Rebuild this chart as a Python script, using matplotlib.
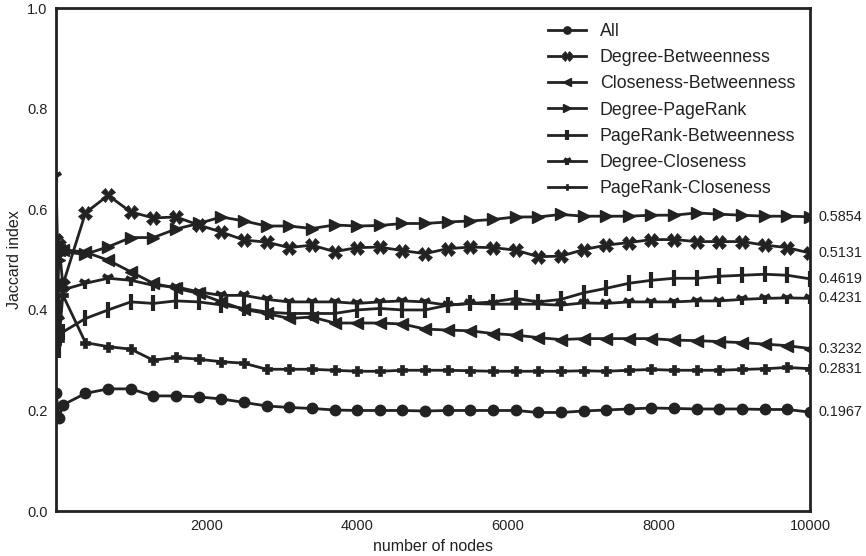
import matplotlib
matplotlib.use("Agg")
import matplotlib.pyplot as plt

plt.rcParams['font.family'] = ['Liberation Sans', 'DejaVu Sans']

nodes = [10, 50, 100, 400, 700, 1000, 1300, 1600, 1900, 2200, 2500, 2800, 3100, 3400,
         3700, 4000, 4300, 4600, 4900, 5200, 5500, 5800, 6100, 6400, 6700, 7000, 7300,
         7600, 7900, 8200, 8500, 8800, 9100, 9400, 9700, 10000]

all_vals = [0.235, 0.185, 0.211, 0.234, 0.243, 0.243, 0.229, 0.229, 0.227, 0.223, 0.216,
            0.209, 0.206, 0.204, 0.201, 0.200, 0.200, 0.200, 0.199, 0.200, 0.200, 0.200,
            0.200, 0.196, 0.196, 0.199, 0.201, 0.203, 0.205, 0.204, 0.203, 0.203, 0.203,
            0.202, 0.202, 0.1967]
deg_btw = [0.54, 0.53, 0.45, 0.593, 0.628, 0.595, 0.583, 0.585, 0.569, 0.555, 0.539, 0.535,
           0.524, 0.529, 0.516, 0.524, 0.525, 0.518, 0.512, 0.522, 0.525, 0.524, 0.519,
           0.506, 0.507, 0.520, 0.529, 0.534, 0.540, 0.540, 0.536, 0.536, 0.536, 0.529,
           0.524, 0.5131]
clo_btw = [0.45, 0.52, 0.52, 0.515, 0.499, 0.476, 0.453, 0.443, 0.433, 0.416, 0.401, 0.393,
           0.383, 0.386, 0.374, 0.374, 0.374, 0.372, 0.362, 0.360, 0.3585, 0.353, 0.350,
           0.345, 0.341, 0.343, 0.343, 0.343, 0.343, 0.340, 0.339, 0.337, 0.335, 0.332,
           0.329, 0.3232]
deg_pr = [0.40, 0.50, 0.515, 0.511, 0.5255, 0.544, 0.544, 0.561, 0.572, 0.585, 0.577, 0.567,
          0.567, 0.562, 0.569, 0.567, 0.568, 0.572, 0.572, 0.575, 0.577, 0.580, 0.585,
          0.585, 0.590, 0.5865, 0.5865, 0.5865, 0.5885, 0.5885, 0.593, 0.5905, 0.5885,
          0.5865, 0.5865, 0.5854]
pr_btw = [0.33, 0.32, 0.356, 0.383, 0.400, 0.416, 0.413, 0.418, 0.416, 0.410, 0.403, 0.396,
          0.393, 0.393, 0.393, 0.400, 0.403, 0.400, 0.400, 0.4095, 0.413, 0.416, 0.423,
          0.416, 0.421, 0.434, 0.443, 0.453, 0.459, 0.463, 0.463, 0.467, 0.469, 0.471,
          0.469, 0.4619]
deg_clo = [0.666, 0.38, 0.44, 0.453, 0.463, 0.459, 0.449, 0.446, 0.436, 0.429, 0.429, 0.421,
           0.416, 0.416, 0.416, 0.413, 0.416, 0.418, 0.416, 0.4095, 0.413, 0.4115, 0.4115,
           0.4115, 0.4095, 0.414, 0.413, 0.416, 0.416, 0.416, 0.418, 0.418, 0.421, 0.423,
           0.424, 0.4231]
pr_clo = [0.40, 0.34, 0.43, 0.335, 0.327, 0.322, 0.300, 0.3055, 0.302, 0.297, 0.294, 0.282,
          0.282, 0.282, 0.280, 0.278, 0.278, 0.280, 0.280, 0.280, 0.279, 0.278, 0.278,
          0.278, 0.278, 0.279, 0.278, 0.280, 0.2816, 0.280, 0.280, 0.280, 0.2816, 0.283,
          0.2856, 0.2831]

labels = ["All", "Degree-Betweenness", "Closeness-Betweenness", "Degree-PageRank",
          "PageRank-Betweenness", "Degree-Closeness", "PageRank-Closeness"]
series = [all_vals, deg_btw, clo_btw, deg_pr, pr_btw, deg_clo, pr_clo]
end_labels = ["0.1967", "0.5131", "0.3232", "0.5854", "0.4619", "0.4231", "0.2831"]

markers = ['o', 'X', '<', '>', '|', '1', 'P']
msizes = [7.5, 10, 9, 9, 11, 9, 7]
mews = [1, 0.5, 1, 1, 3, 3, 0.5]

color = '#222222'

fig = plt.figure(figsize=(8.66, 5.56), dpi=100)
ax = fig.add_axes([0.0647, 0.0809, 0.8706, 0.9041])

for vals, lab, mk, ms, mew in zip(series, labels, markers, msizes, mews):
    ax.plot(nodes, vals, color=color, lw=2, marker=mk, markersize=ms,
            markeredgewidth=mew, markeredgecolor=color, markerfacecolor=color,
            label=lab)

for vals, txt in zip(series, end_labels):
    ax.annotate(txt, xy=(nodes[-1], vals[-1]), xytext=(6.5, 0), textcoords='offset points',
                va='center', ha='left', fontsize=10.4, color=color, annotation_clip=False)

ax.set_xlim(nodes[0], 10000)
ax.set_ylim(0.0, 1.0)
ax.set_xticks([2000, 4000, 6000, 8000, 10000])
ax.set_xticklabels(["2000", "4000", "6000", "8000", "10000"])
ax.set_yticks([0.0, 0.2, 0.4, 0.6, 0.8, 1.0])
ax.set_yticklabels(["0.0", "0.2", "0.4", "0.6", "0.8", "1.0"])
ax.tick_params(axis='both', length=0, labelsize=10.5, colors=color, pad=6)
ax.set_xlabel("number of nodes", fontsize=11.5, color=color, labelpad=4)
ax.set_ylabel("Jaccard index", fontsize=11.5, color=color, labelpad=4)
for sp in ax.spines.values():
    sp.set_linewidth(2)
    sp.set_color(color)
    sp.set_zorder(5)

leg = ax.legend(loc='upper right', bbox_to_anchor=(1.002, 1.003), frameon=False,
                fontsize=12.8, markerscale=0.7, handlelength=2.1, labelspacing=0.52,
                handletextpad=0.8)
for t in leg.get_texts():
    t.set_color(color)

fig.savefig("out.png", dpi=100)
